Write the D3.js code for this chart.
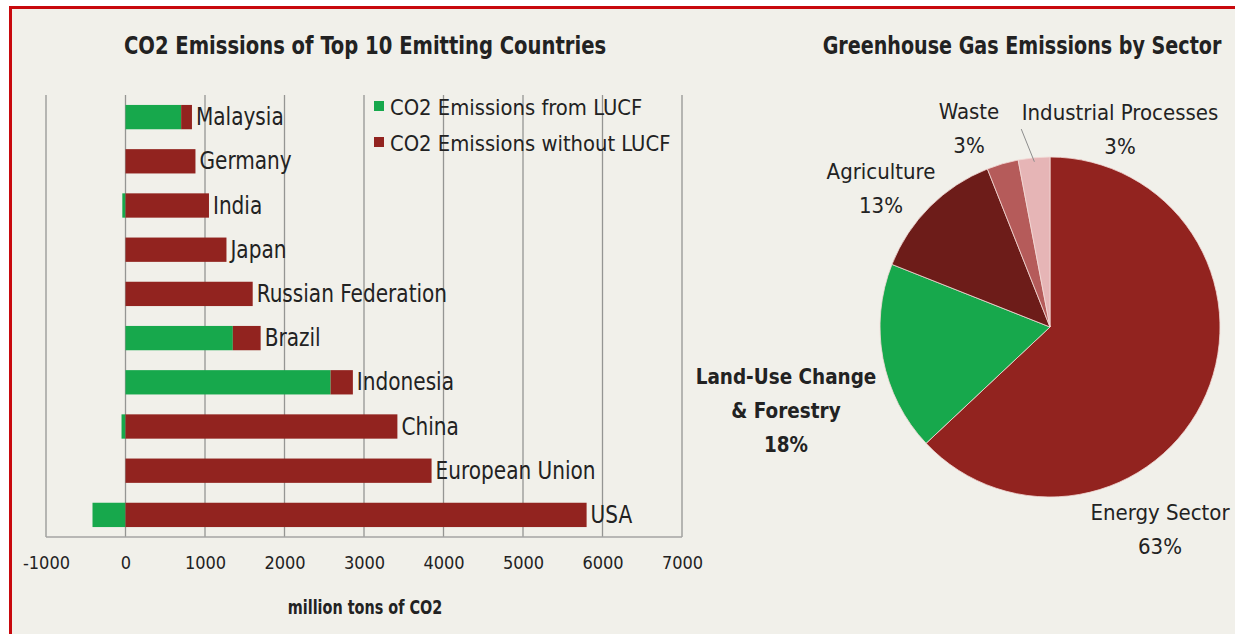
<!DOCTYPE html>
<meta charset="utf-8">
<script src="https://d3js.org/d3.v7.min.js"></script>
<style>
  body { margin: 0; background: #fff; }
  text { font-family: "DejaVu Sans Condensed", "Liberation Sans Narrow", sans-serif; fill: #222; }
</style>
<div id="my_dataviz"></div>
<script>

// ---- data ----
var countries = ["Malaysia", "Germany", "India", "Japan", "Russian Federation",
                 "Brazil", "Indonesia", "China", "European Union", "USA"];
var lucf      = [700, 0, -40, 0, 0, 1350, 2580, -50, 0, -415];            // CO2 from LUCF
var noLucf    = [136, 880, 1050, 1270, 1600, 350, 280, 3420, 3850, 5800]; // CO2 without LUCF
var xTicks    = [-1000, 0, 1000, 2000, 3000, 4000, 5000, 6000, 7000];
var seriesNames = ["CO2 Emissions from LUCF", "CO2 Emissions without LUCF"];

var sectors  = ["Energy Sector", "Land-Use Change & Forestry", "Agriculture", "Waste", "Industrial Processes"];
var shares   = [63, 18, 13, 3, 3];

var W = 1235, H = 634;
var green = "#17a84c", red = "#92231f";

var svg = d3.select("#my_dataviz")
  .append("svg")
    .attr("width", W)
    .attr("height", H);

// background + red frame
svg.append("rect").attr("x", 0).attr("y", 0).attr("width", W).attr("height", H).attr("fill", "#fff");
svg.append("rect")
  .attr("x", 10.5).attr("y", 7.5).attr("width", W).attr("height", H)
  .attr("fill", "#f1f0ea").attr("stroke", "#c8090d").attr("stroke-width", 3);

// ---------- bar chart ----------
var x = d3.scaleLinear()
  .domain([-1000, 7000])
  .range([46, 682]);

var y = d3.scaleBand()
  .domain(countries)
  .range([95, 537])
  .paddingInner(0.45)
  .paddingOuter(0.225);

// gridlines
svg.append("g")
  .selectAll("line")
  .data(xTicks)
  .enter().append("line")
    .attr("x1", function(d) { return x(d); })
    .attr("x2", function(d) { return x(d); })
    .attr("y1", 95)
    .attr("y2", 537)
    .attr("stroke", "#959593")
    .attr("stroke-width", 1.3);

svg.append("line")
  .attr("x1", x(-1000)).attr("x2", x(7000))
  .attr("y1", 537).attr("y2", 537)
  .attr("stroke", "#a5a5a3").attr("stroke-width", 1.5);

// stacked (diverging) bars
var table = countries.map(function(c, i) { return {country: c, lucf: lucf[i], noLucf: noLucf[i]}; });
var stacked = d3.stack()
  .keys(["lucf", "noLucf"])
  .offset(d3.stackOffsetDiverging)(table);

var color = d3.scaleOrdinal().domain(["lucf", "noLucf"]).range([green, red]);

svg.append("g")
  .selectAll("g")
  .data(stacked)
  .enter().append("g")
    .attr("fill", function(d) { return color(d.key); })
  .selectAll("rect")
  .data(function(d) { return d; })
  .enter().append("rect")
    .attr("x", function(d) { return x(d[0]); })
    .attr("y", function(d) { return y(d.data.country); })
    .attr("width", function(d) { return Math.max(0, x(d[1]) - x(d[0])); })
    .attr("height", y.bandwidth());

// country labels at bar end
svg.append("g")
  .selectAll("text")
  .data(table)
  .enter().append("text")
    .attr("class", "sq")
    .attr("data-sq", 0.93)
    .attr("x", function(d) { return x(Math.max(0, d.lucf) + d.noLucf) + 4; })
    .attr("y", function(d) { return y(d.country) + y.bandwidth() / 2 + 8; })
    .style("font-size", "24px")
    .text(function(d) { return d.country; });

// x axis
var xAxis = svg.append("g")
  .attr("transform", "translate(0,537)")
  .call(d3.axisBottom(x).tickValues(xTicks).tickSize(0).tickPadding(19)
          .tickFormat(function(d) { return d < 0 ? "-" + Math.abs(d) : String(d); }));
xAxis.select(".domain").remove();
xAxis.selectAll("text")
  .style("font-family", "'DejaVu Sans Condensed', sans-serif")
  .style("font-size", "18px")
  .attr("fill", "#222");

svg.append("text")
  .attr("class", "sq").attr("data-sq", 0.8)
  .attr("x", 365).attr("y", 614)
  .attr("text-anchor", "middle")
  .style("font-size", "20px").style("font-weight", "bold")
  .text("million tons of CO2");

svg.append("text")
  .attr("class", "sq").attr("data-sq", 0.87)
  .attr("x", 365).attr("y", 54)
  .attr("text-anchor", "middle")
  .style("font-size", "25px").style("font-weight", "bold")
  .text("CO2 Emissions of Top 10 Emitting Countries");

// legend
var legend = svg.append("g")
  .selectAll("g")
  .data(seriesNames)
  .enter().append("g")
    .attr("transform", function(d, i) { return "translate(374," + (101 + i * 36) + ")"; });
legend.append("rect")
  .attr("width", 10).attr("height", 10)
  .attr("fill", function(d, i) { return i === 0 ? green : red; });
legend.append("text")
  .attr("class", "sq").attr("data-sq", 0.99)
  .attr("x", 16).attr("y", 14)
  .style("font-size", "22px")
  .text(function(d) { return d; });

// ---------- pie chart ----------
var cx = 1050, cy = 327, R = 170;
var pieColor = d3.scaleOrdinal()
  .domain(sectors)
  .range([red, green, "#6d1c19", "#b55b5a", "#e6b5b6"]);

var pie = d3.pie().sort(null).value(function(d) { return d; });
var arcs = pie(shares);
var arc = d3.arc().innerRadius(0).outerRadius(R);

var pg = svg.append("g").attr("transform", "translate(" + cx + "," + cy + ")");
pg.selectAll("path")
  .data(arcs)
  .enter().append("path")
    .attr("d", arc)
    .attr("fill", function(d, i) { return pieColor(sectors[i]); })
    .attr("stroke", "#f3d9d5")
    .attr("stroke-width", 0.8);

// pie title: squeezed with a transform so its box stays inside the page
svg.append("text")
  .attr("transform", "translate(1022,54) scale(0.85,1)")
  .attr("text-anchor", "middle")
  .style("font-size", "25px").style("font-weight", "bold")
  .text("Greenhouse Gas Emissions by Sector");

// label layout (offsets from pie centre), lines of text per sector
var labelLayout = [
  {dx: 110, dy: 193, lines: ["Energy Sector"], bold: false},
  {dx: -264, dy: 57, lines: ["Land-Use Change", "& Forestry"], bold: true},
  {dx: -169, dy: -148, lines: ["Agriculture"], bold: false},
  {dx: -81, dy: -208, lines: ["Waste"], bold: false},
  {dx: 70, dy: -207, lines: ["Industrial Processes"], bold: false}
];

// leader line for Industrial Processes
var ind = arcs[4];
var midA = (ind.startAngle + ind.endAngle) / 2;
pg.append("line")
  .attr("x1", Math.sin(midA) * (R - 4)).attr("y1", -Math.cos(midA) * (R - 4))
  .attr("x2", Math.sin(midA - 0.05) * (R + 30)).attr("y2", -Math.cos(midA - 0.05) * (R + 30))
  .attr("stroke", "#8d8d8d").attr("stroke-width", 1);

arcs.forEach(function(d, i) {
  var L = labelLayout[i];
  var lines = L.lines.concat([shares[i] + "%"]);
  lines.forEach(function(s, k) {
    pg.append("text")
      .attr("class", "sq").attr("data-sq", L.bold ? 0.93 : 1)
      .attr("text-anchor", "middle")
      .attr("x", L.dx)
      .attr("y", L.dy + k * 34)
      .style("font-size", "22px")
      .style("font-weight", L.bold ? "bold" : "normal")
      .text(s);
  });
});

// squeeze texts horizontally to mimic the condensed face of the original
svg.selectAll("text.sq").each(function() {
  var f = +this.getAttribute("data-sq");
  if (f && f !== 1) {
    var len = this.getComputedTextLength();
    d3.select(this).attr("textLength", len * f).attr("lengthAdjust", "spacingAndGlyphs");
  }
});

</script>
